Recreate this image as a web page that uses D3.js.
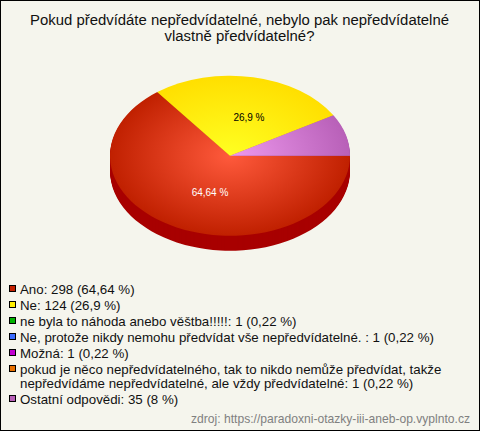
<!DOCTYPE html>
<html><head><meta charset="utf-8">
<script src="https://cdn.jsdelivr.net/npm/d3@7"></script>
<style>html,body{margin:0;padding:0;background:#f5f5ed}svg{display:block}text{font-family:"Liberation Sans",Arial,sans-serif}</style>
</head><body><div id="c"></div>
<script>
const titleLines = ["Pokud předvídáte nepředvídatelné, nebylo pak nepředvídatelné","vlastně předvídatelné?"];
const pieLabels = ["64,64 %","26,9 %",""];
const pieValues = [298,124,39];
const pieInner = ["#ff5a3c","#ffff22","#ee99ee"];
const pieOuter = ["#c02000","#ffdf00","#b860b8"];
const pieSide = ["#a80000","#c8a800","#905090"];
const labelColors = ["#ffffff","#000000","#000000"];
const legendEntries = [
 {color:"#c42000",lines:["Ano: 298 (64,64 %)"]},
 {color:"#ffee00",lines:["Ne: 124 (26,9 %)"]},
 {color:"#00b300",lines:["ne byla to náhoda anebo věštba!!!!!: 1 (0,22 %)"]},
 {color:"#3b6cff",lines:["Ne, protože nikdy nemohu předvídat vše nepředvídatelné. : 1 (0,22 %)"]},
 {color:"#c000d0",lines:["Možná: 1 (0,22 %)"]},
 {color:"#e87000",lines:["pokud je něco nepředvídatelného, tak to nikdo nemůže předvídat, takže","nepředvídáme nepředvídatelné, ale vždy předvídatelné: 1 (0,22 %)"]},
 {color:"#b860b8",lines:["Ostatní odpovědi: 35 (8 %)"]}
];
const source = "zdroj: https://paradoxni-otazky-iii-aneb-op.vyplnto.cz";

const W=480,H=431,cx=230,cy=155.75,rx=120,ry=80,depth=15;
const svg=d3.select("#c").append("svg").attr("width",W).attr("height",H);
svg.append("rect").attr("x",.5).attr("y",.5).attr("width",W-1).attr("height",H-1).attr("fill","#f5f5ed").attr("stroke","#000");

const defs=svg.append("defs");
pieValues.forEach((v,i)=>{
  const g=defs.append("radialGradient").attr("id","g"+i).attr("gradientUnits","userSpaceOnUse")
    .attr("cx",0).attr("cy",0).attr("r",rx);
  g.append("stop").attr("offset",0).attr("stop-color",pieInner[i]);
  g.append("stop").attr("offset",1).attr("stop-color",pieOuter[i]);
});
const pie=d3.pie().sort(null).startAngle(Math.PI/2).endAngle(Math.PI/2+2*Math.PI)(pieValues);
const arc=d3.arc().innerRadius(0).outerRadius(rx);
const sy=ry/rx;
const side=svg.append("g");
for(let d=depth;d>0;d--){
  side.append("g").attr("transform",`translate(${cx},${cy+d}) scale(1,${sy})`)
   .selectAll("path").data(pie).join("path").attr("d",arc).attr("fill",(p,i)=>pieSide[i]);
}
svg.append("g").attr("transform",`translate(${cx},${cy}) scale(1,${sy})`)
  .selectAll("path").data(pie).join("path").attr("d",arc).attr("fill",(p,i)=>`url(#g${i})`);
// labels sit about a third of the way out, pushed along each slice's mid direction
const labelShift=[[-4,4],[12,4]];
pie.forEach((p,i)=>{
  if(!pieLabels[i])return;
  const a=(p.startAngle+p.endAngle)/2, k=0.5;
  svg.append("text").attr("x",cx+Math.sin(a)*rx*k*0.6+labelShift[i][0]).attr("y",cy-Math.cos(a)*ry*k+labelShift[i][1])
    .attr("text-anchor","middle").attr("font-size",10).attr("fill",labelColors[i]).text(pieLabels[i]);
});
svg.append("g").selectAll("text").data(titleLines).join("text")
  .attr("x",W/2-.5).attr("y",(d,i)=>25+i*15.5).attr("text-anchor","middle").attr("font-size",14.9).attr("fill","#111").text(d=>d);
let y=286;
const leg=svg.append("g");
legendEntries.forEach(e=>{
  leg.append("rect").attr("x",9.5).attr("y",y-.5).attr("width",6).attr("height",6).attr("fill",e.color).attr("stroke","#000");
  e.lines.forEach((t,j)=>{
    leg.append("text").attr("x",20).attr("y",y+7.5+j*14.5).attr("font-size",13.3).attr("fill","#111").text(t);
  });
  y+=e.lines.length>1?30:16;
});
svg.append("text").attr("x",470).attr("y",423).attr("text-anchor","end").attr("font-size",12.1).attr("fill","#808080").text(source);
</script></body></html>
